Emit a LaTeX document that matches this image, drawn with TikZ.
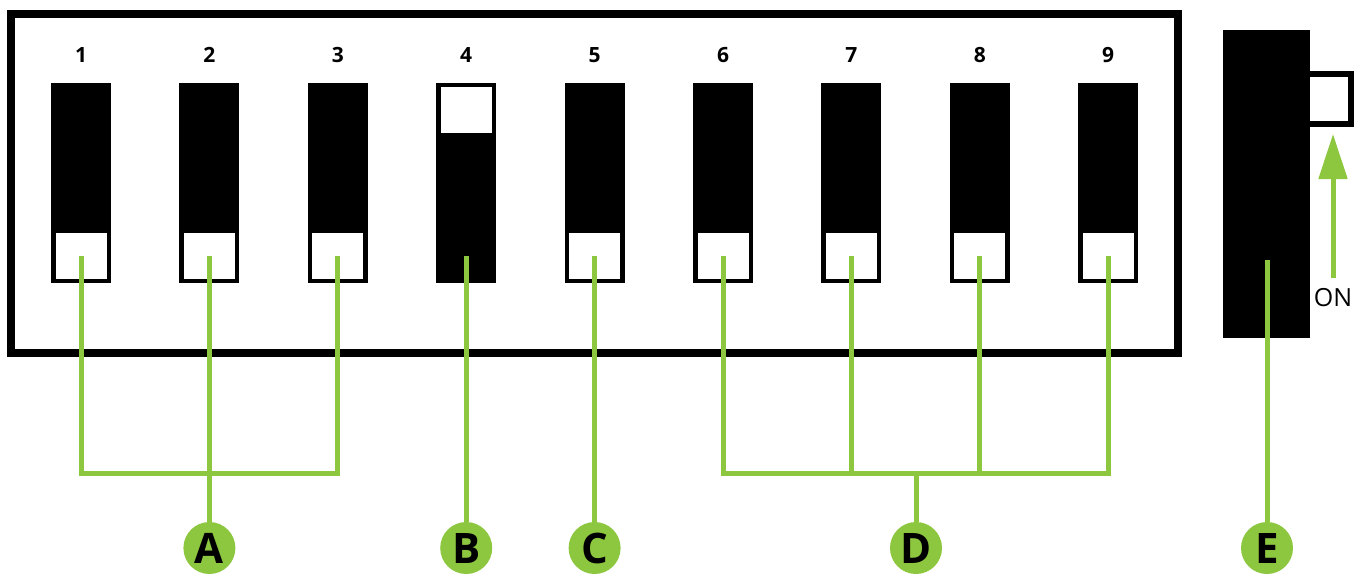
\documentclass[tikz,border=0pt]{standalone}
\usepackage{fontspec}
\setmainfont{Open Sans}
\usepackage{tikz}
\usetikzlibrary{arrows.meta}
\definecolor{wiregreen}{RGB}{141,198,63}

\begin{document}
\begin{tikzpicture}[x=1pt,y=-1pt,
		switch/.style={fill=black,inner sep=0,minimum width=60pt,minimum height=200pt},
		slider/.style={fill=white,inner sep=0,minimum width=51pt,minimum height=46pt},
		wire/.style={wiregreen,line width=5pt},
		tag/.style={circle,fill=wiregreen,inner sep=0,minimum size=52pt,font=\fontsize{42}{42}\selectfont\bfseries},
		num/.style={font=\fontsize{21}{21}\selectfont\bfseries}]
		\useasboundingbox (0,0) rectangle (1359,573);
		\draw [line width=8pt] (11,13.5) rectangle (1178,353);
		\foreach \i in {1,...,9} {
			\pgfmathsetmacro\xs{81+128.4*(\i-1)}
			\node[switch] (s\i) at (\xs,183) {};
			\node[num] (n\i) at (\xs,55) {\i};
		}
		\foreach \i in {1,2,3,5,6,7,8,9}
			\node[slider,anchor=south] (k\i) at ([yshift=4pt]s\i.south) {};
		\node[slider,anchor=north] (k4) at ([yshift=-4pt]s4.north) {};
		\coordinate (w4) at (s4.center |- k1.center);

		\draw [line width=6pt] (1300,74) rectangle (1351,124);
		\node[fill=black,inner sep=0,minimum width=87pt,minimum height=308pt] (blk) at (1266.5,184) {};
		\coordinate (w5) at (1267,260);
		\node[font=\fontsize{25}{25}\selectfont] (on) at (1333,298) {ON};
		\coordinate (on0) at (1333,278);
		\coordinate (on1) at (1333,134);
		\draw [wire,-{Triangle[length=45pt,width=28pt]}] (on0) -- (on1);

		\node[tag] (A) at (k2.center |- 0,548) {A};
		\node[tag] (B) at (s4.center |- 0,548) {B};
		\node[tag] (C) at (k5.center |- 0,548) {C};
		\node[tag] (D) at (916,548) {D};
		\node[tag] (E) at (w5 |- 0,548) {E};
		\coordinate (busA) at (k2.center |- 0,473);
		\coordinate (busD) at (916,473);

		\draw [wire] (k1.center) |- (busA) -| (k3.center);
		\draw [wire] (k2.center) -- (A);
		\draw [wire] (w4) -- (B);
		\draw [wire] (k5.center) -- (C);
		\draw [wire] (k6.center) |- (busD) -| (k9.center);
		\draw [wire] (k7.center) -- (k7.center |- busD);
		\draw [wire] (k8.center) -- (k8.center |- busD);
		\draw [wire] (busD) -- (D);
		\draw [wire] (w5) -- (E);
	\end{tikzpicture}
\end{document}
